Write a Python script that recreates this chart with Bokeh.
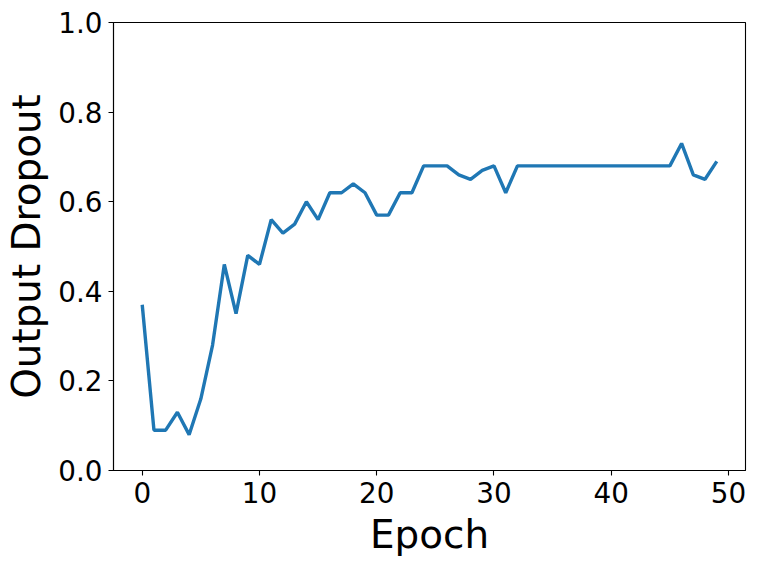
from bokeh.plotting import figure
from bokeh.models import ColumnDataSource, FixedTicker, PrintfTickFormatter, Range1d
from bokeh.embed import file_html
from bokeh.resources import INLINE

epochs = list(range(50))
dropout = [0.37, 0.09, 0.09, 0.13, 0.08, 0.16, 0.28, 0.46, 0.35, 0.48,
           0.46, 0.56, 0.53, 0.55, 0.60, 0.56, 0.62, 0.62, 0.64, 0.62,
           0.57, 0.57, 0.62, 0.62, 0.68, 0.68, 0.68, 0.66, 0.65, 0.67,
           0.68, 0.62, 0.68, 0.68, 0.68, 0.68, 0.68, 0.68, 0.68, 0.68,
           0.68, 0.68, 0.68, 0.68, 0.68, 0.68, 0.73, 0.66, 0.65, 0.69]
x_ticks = [0, 10, 20, 30, 40, 50]
y_ticks = [0.0, 0.2, 0.4, 0.6, 0.8, 1.0]

src = ColumnDataSource(data=dict(x=epochs, y=dropout))

p = figure(width=762, height=566, output_backend="svg", toolbar_location=None,
           x_range=Range1d(-2.45, 51.45), y_range=Range1d(0, 1),
           min_border_left=113, min_border_right=17, min_border_top=22, min_border_bottom=96)
p.line("x", "y", source=src, line_color="#1f77b4", line_width=3.4)

p.xgrid.visible = False
p.ygrid.visible = False
p.outline_line_color = "black"
p.outline_line_width = 1.1
p.outline_line_alpha = 1.0

p.xaxis.ticker = FixedTicker(ticks=x_ticks)
p.yaxis.ticker = FixedTicker(ticks=y_ticks)
p.yaxis.formatter = PrintfTickFormatter(format="%.1f")
p.xaxis.axis_label = "Epoch"
p.yaxis.axis_label = "Output Dropout"

for ax in (p.xaxis[0], p.yaxis[0]):
    ax.axis_line_color = "black"
    ax.axis_line_width = 1.1
    ax.major_tick_line_color = "black"
    ax.major_tick_line_width = 1.1
    ax.major_tick_out = 5
    ax.major_tick_in = 0
    ax.minor_tick_line_color = None
    ax.major_label_text_font = "DejaVu Sans"
    ax.major_label_text_font_size = "27.8px"
    ax.major_label_text_color = "black"
    ax.major_label_standoff = 6
    ax.axis_label_text_font = "DejaVu Sans"
    ax.axis_label_text_font_size = "38.9px"
    ax.axis_label_text_font_style = "normal"
    ax.axis_label_text_color = "black"
    ax.axis_label_standoff = 6

p.background_fill_color = "white"
p.border_fill_color = "white"

open("out.html", "w").write(file_html(p, INLINE))
